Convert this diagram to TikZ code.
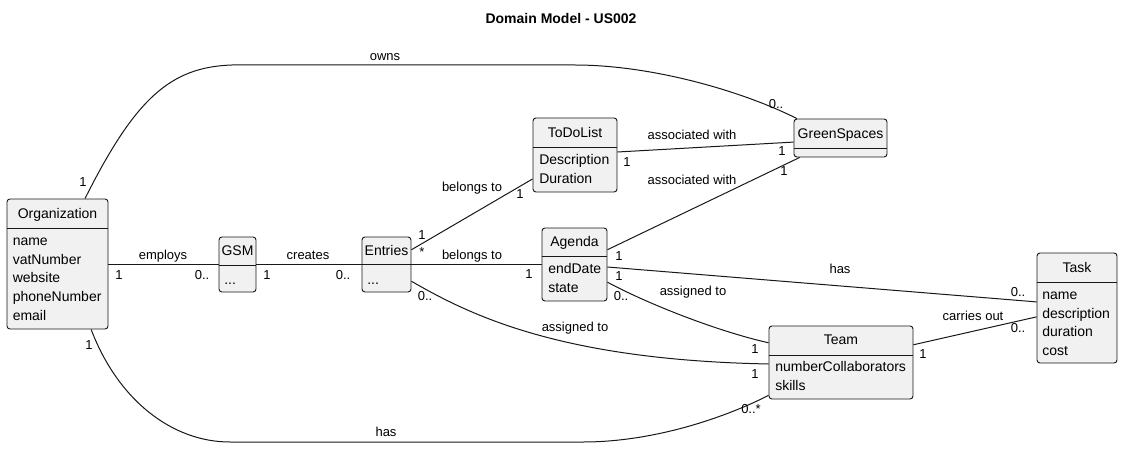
\documentclass[tikz,border=0pt]{standalone}
\usepackage{fontspec}
\setmainfont{Liberation Sans}
\usetikzlibrary{fit,calc}
\definecolor{boxfill}{HTML}{F1F1F1}
\definecolor{ink}{HTML}{181818}
\begin{document}
\begin{tikzpicture}[x=0.75pt,y=-0.75pt,
  umlbox/.style={draw=ink, fill=boxfill, rounded corners=2.2pt, line width=0.7pt, inner sep=0pt},
  hdr/.style={font=\fontsize{10.5}{12}\selectfont, text=black, inner sep=0pt, anchor=mid, yshift=-1.1pt},
  attr/.style={font=\fontsize{10.5}{12}\selectfont, text=black, inner sep=0pt, anchor=mid west},
  lbl/.style={font=\fontsize{9.75}{11}\selectfont, text=black, inner sep=0pt, anchor=mid},
  conn/.style={draw=ink, line width=0.75pt},
  sepline/.style={draw=ink, line width=0.7pt}]
\useasboundingbox[fill=white] (0,0) rectangle (1123,449);

\node[font=\bfseries\fontsize{10.5}{12}\selectfont, inner sep=0pt, anchor=mid, yshift=-1pt] (title) at (561,19) {Domain Model - US002};

% Organization
\node[umlbox, fit={(7,199) (108,329)}] (org) {};
\draw[sepline] (org.west |- 0,228) -- (org.east |- 0,228);
\node[hdr] (orgh) at (57.5,214) {Organization};
\node[attr] (orga1) at (12.5,241.5) {name};
\node[attr] (orga2) at (12.5,260.5) {vatNumber};
\node[attr] (orga3) at (12.5,279) {website};
\node[attr] (orga4) at (12.5,298) {phoneNumber};
\node[attr] (orga5) at (12.5,316.5) {email};

% GSM
\node[umlbox, fit={(219,237) (256,292)}] (gsm) {};
\draw[sepline] (gsm.west |- 0,265) -- (gsm.east |- 0,265);
\node[hdr] (gsmh) at (237.5,251) {GSM};
\node[attr] (gsma) at (224,281) {...};

% Entries
\node[umlbox, fit={(362,237) (411,292)}] (entries) {};
\draw[sepline] (entries.west |- 0,264.5) -- (entries.east |- 0,264.5);
\node[hdr] (entriesh) at (386.5,251) {Entries};
\node[attr] (entriesa) at (367,281) {...};

% ToDoList
\node[umlbox, fit={(533,118) (617,192)}] (todo) {};
\draw[sepline] (todo.west |- 0,147) -- (todo.east |- 0,147);
\node[hdr] (todoh) at (575,133) {ToDoList};
\node[attr] (todoa1) at (539,161) {Description};
\node[attr] (todoa2) at (539,180) {Duration};

% Agenda
\node[umlbox, fit={(542,228) (607,301)}] (agenda) {};
\draw[sepline] (agenda.west |- 0,256) -- (agenda.east |- 0,256);
\node[hdr] (agendah) at (574.5,242) {Agenda};
\node[attr] (agendaa1) at (548,270) {endDate};
\node[attr] (agendaa2) at (548,289) {state};

% GreenSpaces
\node[umlbox, fit={(794,119) (887,157)}] (green) {};
\draw[sepline] (green.west |- 0,148) -- (green.east |- 0,148);
\node[hdr] (greenh) at (840.5,134) {GreenSpaces};

% Team
\node[umlbox, fit={(769,326) (913,399)}] (team) {};
\draw[sepline] (team.west |- 0,355) -- (team.east |- 0,355);
\node[hdr] (teamh) at (841,340) {Team};
\node[attr] (teama1) at (775,368) {numberCollaborators};
\node[attr] (teama2) at (775,386.5) {skills};

% Task
\node[umlbox, fit={(1037,253) (1117,363)}] (task) {};
\draw[sepline] (task.west |- 0,282) -- (task.east |- 0,282);
\node[hdr] (taskh) at (1077,268) {Task};
\node[attr] (taska1) at (1042,296) {name};
\node[attr] (taska2) at (1042,314.5) {description};
\node[attr] (taska3) at (1042,333) {duration};
\node[attr] (taska4) at (1042,351.5) {cost};

% Connectors
\draw[conn] ($(org.north west)!0.77!(org.north east)$) .. controls (135,99) and (170,67) .. (232,65) -- (575,65) .. controls (650,65) and (740,90) .. ($(green.north west)!0.035!(green.north east)$);
\draw[conn] ($(org.south west)!0.83!(org.south east)$) .. controls (118,400) and (172,442) .. (230,442) -- (583,442) .. controls (650,442) and (720,420) .. ($(team.north west)!0.945!(team.south west)$);
\draw[conn] (org.east |- gsm.west) -- (gsm.west);
\draw[conn] (gsm.east) -- (entries.west);
\draw[conn] ($(entries.north east)!0.236!(entries.south east)$) -- ($(todo.north west)!0.82!(todo.south west)$);
\draw[conn] (entries.east) -- (agenda.west);
\draw[conn] ($(entries.north east)!0.8!(entries.south east)$) .. controls (470,315) and (560,360) .. ($(team.north west)!0.52!(team.south west)$);
\draw[conn] ($(agenda.north east)!0.30!(agenda.south east)$) -- ($(green.south west)!0.065!(green.south east)$);
\draw[conn] ($(todo.north east)!0.46!(todo.south east)$) -- ($(green.north west)!0.605!(green.south west)$);
\draw[conn] ($(agenda.north east)!0.534!(agenda.south east)$) -- ($(task.north west)!0.445!(task.south west)$);
\draw[conn] ($(agenda.north east)!0.74!(agenda.south east)$) .. controls (650,305) and (720,332) .. ($(team.north west)!0.233!(team.south west)$);
\draw[conn] ($(team.north east)!0.26!(team.south east)$) -- ($(task.north west)!0.58!(task.south west)$);

% Labels
\node[lbl] (l1) at (385,57) {owns};
\node[lbl] (l2) at (83,183) {1};
\node[lbl] (l3) at (776,105) {0..};
\node[lbl] (l4) at (386,433) {has};
\node[lbl] (l5) at (89,346) {1};
\node[lbl] (l6) at (751,410) {0..*};
\node[lbl] (l7) at (163,256) {employs};
\node[lbl] (l8) at (119,276) {1};
\node[lbl] (l9) at (202,276) {0..};
\node[lbl] (l10) at (308,256) {creates};
\node[lbl] (l11) at (267,276) {1};
\node[lbl] (l12) at (343,276) {0..};
\node[lbl] (l13) at (472,188) {belongs to};
\node[lbl] (l14) at (422,236) {1};
\node[lbl] (l15) at (422,253) {*};
\node[lbl] (l16) at (520,195) {1};
\node[lbl] (l17) at (472,256) {belongs to};
\node[lbl] (l18) at (529,275) {1};
\node[lbl] (l19) at (425,297) {0..};
\node[lbl] (l20) at (575,328) {assigned to};
\node[lbl] (l21) at (755,375) {1};
\node[lbl] (l22) at (621,297) {0..};
\node[lbl] (l23) at (693,292) {assigned to};
\node[lbl] (l24) at (755,350) {1};
\node[lbl] (l25) at (619,257) {1};
\node[lbl] (l26) at (784,172) {1};
\node[lbl] (l27) at (692,181) {associated with};
\node[lbl] (l28) at (627,163) {1};
\node[lbl] (l29) at (782,152) {1};
\node[lbl] (l30) at (692,136) {associated with};
\node[lbl] (l31) at (619,277) {1};
\node[lbl] (l32) at (840,270) {has};
\node[lbl] (l33) at (1018,293) {0..};
\node[lbl] (l34) at (923,355) {1};
\node[lbl] (l35) at (1018,329) {0..};
\node[lbl] (l36) at (973,317) {carries out};
\end{tikzpicture}
\end{document}
